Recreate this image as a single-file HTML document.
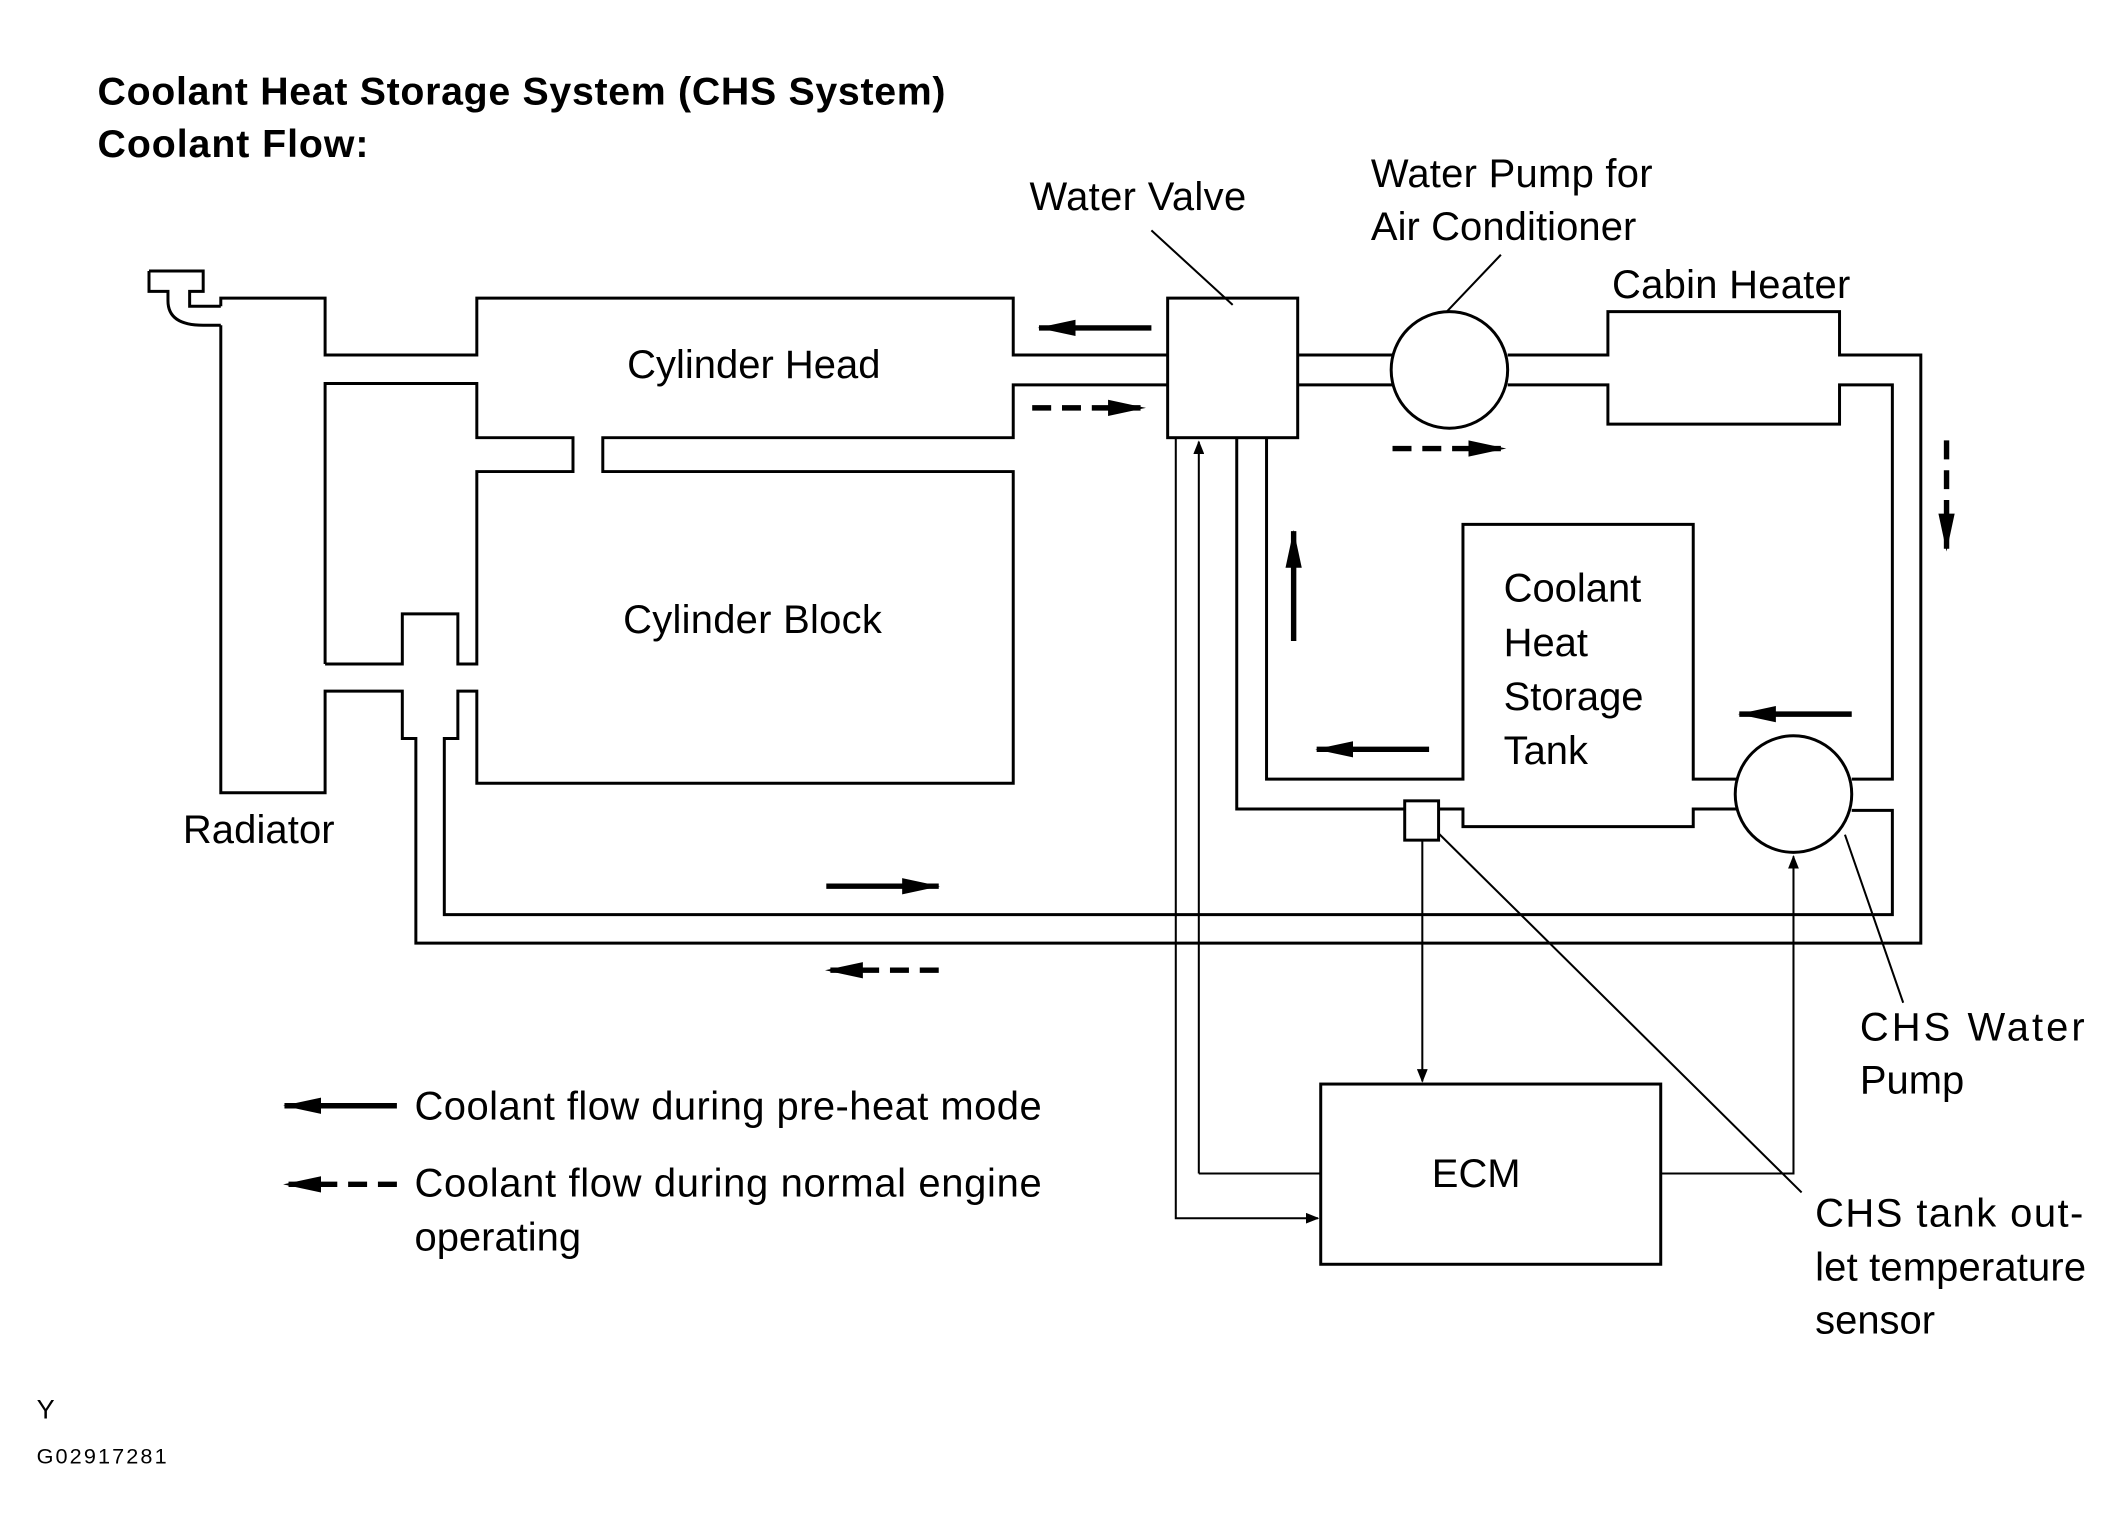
<!DOCTYPE html>
<html><head><meta charset="utf-8"><style>
html,body{margin:0;padding:0;background:#fff}
svg{display:block}
text{font-family:"Liberation Sans",sans-serif;fill:#000}
</style></head><body>
<svg width="2124" height="1538" viewBox="0 0 1568 1135" preserveAspectRatio="none">
<defs>
<marker id="a" markerWidth="10" markerHeight="8" refX="9" refY="4" orient="auto" markerUnits="userSpaceOnUse"><path d="M0,0 L10,4 L0,8z"/></marker>
<marker id="b" markerWidth="28" markerHeight="16" refX="27" refY="8" orient="auto" markerUnits="userSpaceOnUse"><path d="M0,2 L28,8 L0,14z"/></marker>
</defs>
<g fill="none" stroke="#000" stroke-width="2.2">
<path d="M110,200 H150 V215 H140 V226 H163"/>
<path d="M110,200 V215 H124 V222 Q124,240 150,240 H163"/>
<path d="M163,226 V220 H240 V262 H352 V220 H748 V262 H862"/>
<path d="M163,240 V585 H240 V510 H297 V545 H307 V696 H1418 V262 H1358 V230 H1187 V262 H1113"/>
<path d="M240,490 V283 H352 V323 H423 V348 H352 V490 H338 V453 H297 V490 H240"/>
<path d="M862,284 H748 V323 H445 V348 H748 V578 H352 V510 H338 V545 H328 V675 H1397 V598 H1367"/>
<rect x="862" y="220" width="96" height="103"/>
<path d="M958,262 H1028 M958,284 H1028"/>
<circle cx="1070" cy="273" r="43"/>
<path d="M1113,284 H1187 V313 H1358 V284 H1397 V575 H1367"/>
<circle cx="1324" cy="586" r="43"/>
<path d="M935,323 V575 H1080 V387 H1250 V575 H1282"/>
<path d="M913,323 V597 H1037 M1062,597 H1080 V610 H1250 V597 H1282"/>
<rect x="1037" y="591" width="25" height="29"/>
<rect x="975" y="800" width="251" height="133"/>
</g>
<g fill="none" stroke="#000" stroke-width="1.5">
<path d="M885,866 H975 M885,866 V326" marker-end="url(#a)"/>
<path d="M868,323 V899 H973" marker-end="url(#a)"/>
<path d="M1050,620 V798" marker-end="url(#a)"/>
<path d="M1226,866 H1324 V632" marker-end="url(#a)"/>
<path d="M1062,615 L1330,880 M1362,616 L1405,740 M850,170 L910,225 M1108,188 L1068,230"/>
</g>
<g fill="none" stroke="#000" stroke-width="4">
<path d="M850,242 H767" marker-end="url(#b)"/>
<path d="M762,301 H845" stroke-dasharray="14,8" marker-end="url(#b)"/>
<path d="M1028,331 H1111" stroke-dasharray="14,8" marker-end="url(#b)"/>
<path d="M1437,325 V406" stroke-dasharray="14,8" marker-end="url(#b)"/>
<path d="M955,473 V392" marker-end="url(#b)"/>
<path d="M1055,553 H972" marker-end="url(#b)"/>
<path d="M1367,527 H1284" marker-end="url(#b)"/>
<path d="M610,654 H693" marker-end="url(#b)"/>
<path d="M693,716 H610" stroke-dasharray="14,8" marker-end="url(#b)"/>
<path d="M293,816 H210" marker-end="url(#b)"/>
<path d="M293,874 H210" stroke-dasharray="14,8" marker-end="url(#b)"/>
</g>
<g font-size="29.5">
<text x="72" y="77" font-weight="bold" font-size="29" textLength="626">Coolant Heat Storage System (CHS System)</text>
<text x="72" y="116" font-weight="bold" font-size="29" textLength="200">Coolant Flow:</text>
<text x="760" y="155" textLength="160">Water Valve</text>
<text x="1012" y="138" textLength="208">Water Pump for</text>
<text x="1012" y="177" textLength="196">Air Conditioner</text>
<text x="1190" y="220" textLength="176">Cabin Heater</text>
<text x="463" y="279" textLength="187">Cylinder Head</text>
<text x="460" y="467" textLength="191">Cylinder Block</text>
<text x="1110" y="444">Coolant</text>
<text x="1110" y="484">Heat</text>
<text x="1110" y="524">Storage</text>
<text x="1110" y="564">Tank</text>
<text x="135" y="622" textLength="112">Radiator</text>
<text x="1373" y="768" textLength="166">CHS  Water</text>
<text x="1373" y="807">Pump</text>
<text x="1057" y="876">ECM</text>
<text x="1340" y="905" textLength="198">CHS  tank  out-</text>
<text x="1340" y="945" textLength="200">let temperature</text>
<text x="1340" y="984">sensor</text>
<text x="306" y="826" textLength="463">Coolant flow during pre-heat mode</text>
<text x="306" y="883" textLength="463">Coolant flow during normal engine</text>
<text x="306" y="923">operating</text>
<text x="27" y="1047" font-size="20">Y</text>
<text x="27" y="1080" font-size="16" textLength="96">G02917281</text>
</g>
</svg>
</body></html>
